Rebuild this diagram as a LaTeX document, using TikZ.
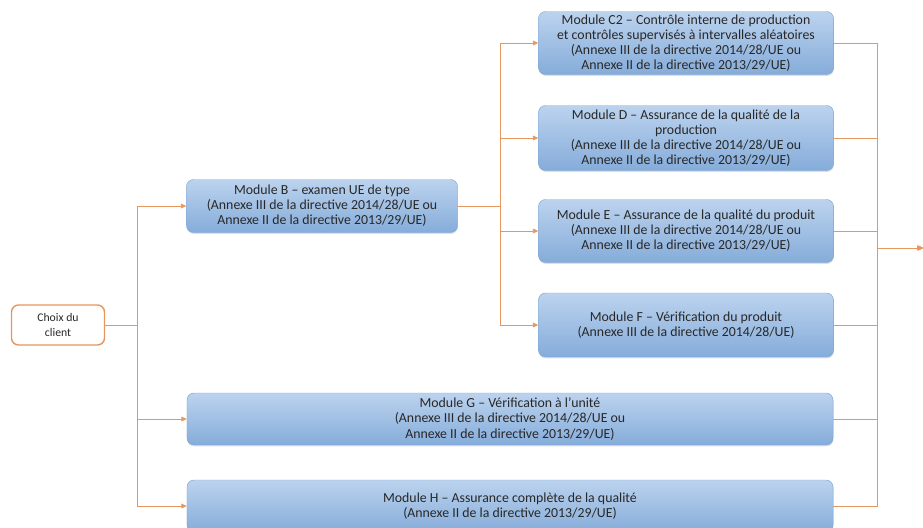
\documentclass[tikz,border=0pt]{standalone}
\usepackage{fontspec}
\setmainfont{Carlito}
\usetikzlibrary{arrows.meta,shadows}

\definecolor{boxtop}{RGB}{188,211,238}
\definecolor{boxbottom}{RGB}{133,172,218}
\definecolor{boxline}{RGB}{125,165,212}
\definecolor{linkorange}{RGB}{230,150,95}
\definecolor{textgray}{RGB}{40,40,40}

\begin{document}
\begin{tikzpicture}[x=0.03cm,y=-0.03cm,
    module/.style={draw=boxline,rounded corners=6pt,top color=boxtop,bottom color=boxbottom,
        align=center,inner sep=2pt,text=textgray,font=\fontsize{11.8}{12.9}\selectfont,
        drop shadow={opacity=0.25,shadow xshift=0.4pt,shadow yshift=-1.2pt}},
    choice/.style={draw=linkorange,line width=1.2pt,rounded corners=6pt,fill=white,
        align=center,text=textgray,font=\fontsize{10}{12.8}\selectfont,
        minimum width=2.79cm,minimum height=1.2cm},
    link/.style={draw=linkorange,line width=0.6pt},
    arrow/.style={link,-{Triangle[length=4.5pt,width=4pt]}}]
    \useasboundingbox (0,0) rectangle (923,527);

    % client choice
    \node[choice] (client) at (58,325) {Choix du\\client};

    % module B
    \node[module,minimum width=8.13cm,minimum height=1.59cm] (B) at (322,206)
        {Module B -- examen UE de type\\(Annexe III de la directive 2014/28/UE ou\\Annexe II de la directive 2013/29/UE)};

    % modules after B
    \node[module,minimum width=8.85cm,minimum height=1.89cm] (C2) at (686,43)
        {Module C2 -- Contrôle interne de production\\et contrôles supervisés à intervalles aléatoires\\(Annexe III de la directive 2014/28/UE ou\\Annexe II de la directive 2013/29/UE)};
    \node[module,minimum width=8.85cm,minimum height=1.95cm] (D) at (686,138)
        {Module D -- Assurance de la qualité de la\\production\\(Annexe III de la directive 2014/28/UE ou\\Annexe II de la directive 2013/29/UE)};
    \node[module,minimum width=8.85cm,minimum height=1.89cm] (E) at (686,231)
        {Module E -- Assurance de la qualité du produit\\(Annexe III de la directive 2014/28/UE ou\\Annexe II de la directive 2013/29/UE)};
    \node[module,minimum width=8.85cm,minimum height=1.92cm] (F) at (686,325)
        {Module F -- Vérification du produit\\(Annexe III de la directive 2014/28/UE)};

    % modules G and H
    \node[module,minimum width=19.38cm,minimum height=1.56cm] (G) at (510,419)
        {Module G -- Vérification à l’unité\\(Annexe III de la directive 2014/28/UE ou\\Annexe II de la directive 2013/29/UE)};
    \node[module,minimum width=19.38cm,minimum height=1.56cm] (H) at (510,506)
        {Module H -- Assurance complète de la qualité\\(Annexe II de la directive 2013/29/UE)};

    % buses
    \coordinate (lbus) at (137,0);
    \coordinate (mbus) at (500,0);
    \coordinate (rbus) at (877,0);
    \coordinate (out) at (923,248);

    % client to B, G, H
    \foreach \m in {B,G,H}
        \draw[arrow] (client.east) -- (client.east -| lbus) |- (\m.west);

    % B to C2, D, E, F
    \foreach \m in {C2,D,E,F}
        \draw[arrow] (B.east) -- (B.east -| mbus) |- (\m.west);

    % all modules to the exit
    \foreach \m in {C2,D,E,F,G,H}
        \draw[arrow] (\m.east) -| (rbus |- out) -- (out);
\end{tikzpicture}
\end{document}
